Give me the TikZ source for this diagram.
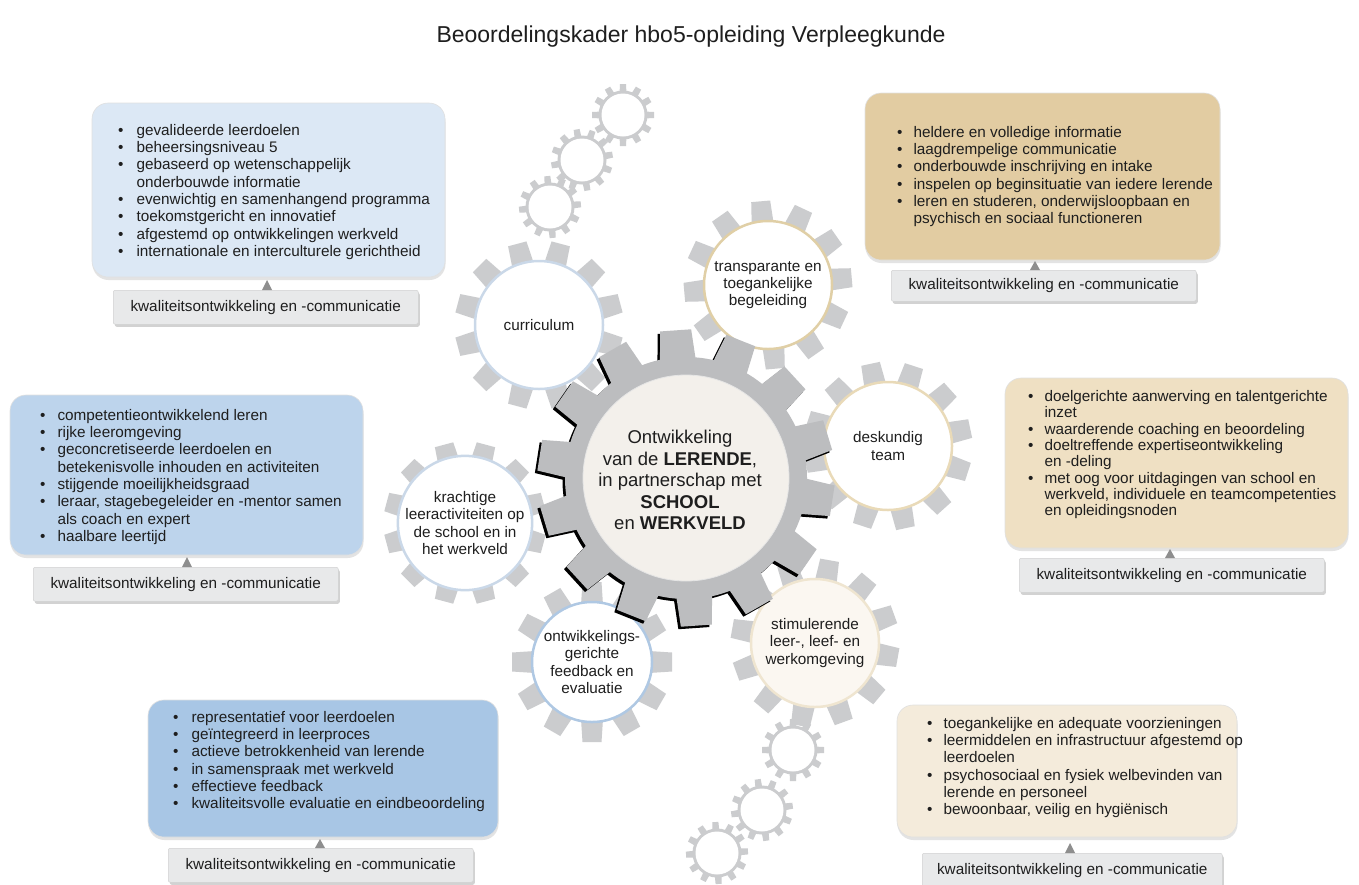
\documentclass[tikz,border=0pt]{standalone}
\usepackage{fontspec}
\setmainfont{Liberation Sans}
\usetikzlibrary{shadows}
\newcommand\fs{\fontsize{15.3}{17.3}\selectfont}
\newcommand\fsd{\fontsize{15.3}{16.3}\selectfont}
\newcommand\fsg{\fontsize{15.3}{17.2}\selectfont}
\newcommand\fsc{\fontsize{18.5}{21.5}\selectfont}
\newcommand{\gearteeth}[8]{%
  \begin{scope}[shift={(#1,#2)}]
    \foreach \k in {1,...,#5}{%
      \fill[rotate=#8+\k*360/#5] (-#6,#3-3) -- (-#7,#4) -- (#7,#4) -- (#6,#3-3) -- cycle;
    }
  \end{scope}}
\definecolor{txt}{HTML}{1E1E1E}
\definecolor{bA}{HTML}{DCE8F5}
\definecolor{bB}{HTML}{E2CCA2}
\definecolor{bC}{HTML}{BDD4EC}
\definecolor{bD}{HTML}{EFE0C3}
\definecolor{bE}{HTML}{A8C6E5}
\definecolor{bF}{HTML}{F4EBDB}
\definecolor{footgray}{HTML}{E8E9EA}
\definecolor{trigray}{HTML}{8E8E8E}
\definecolor{sgray}{HTML}{CBCCCE}
\definecolor{cgray}{HTML}{BCBDBF}
\definecolor{cin}{HTML}{F3F0EB}
\definecolor{edBlue}{HTML}{CAD8E8}
\definecolor{edBlueB}{HTML}{AFC8E3}
\definecolor{edTan}{HTML}{E0CFA6}
\definecolor{edTanB}{HTML}{E9DAB8}
\definecolor{edCream}{HTML}{EFE5D0}
\begin{document}
\begin{tikzpicture}[x=1pt,y=-1pt,
  box/.style={rounded corners=16pt, inner sep=0pt, outer sep=0pt, anchor=north west,
    draw=black!12, line width=0.6pt,
    drop shadow={shadow xshift=0.5pt, shadow yshift=-3pt, opacity=0.22}},
  foot/.style={fill=footgray, draw=black!18, line width=0.5pt, rounded corners=2pt,
    inner sep=0pt, minimum width=305pt, minimum height=34pt, anchor=north west,
    font=\fs, text=txt,
    drop shadow={shadow xshift=1.5pt, shadow yshift=-2.5pt, opacity=0.35}},
  blist/.style={anchor=north west, inner sep=0pt, text=txt, font=\fs},
  gearc/.style={circle, inner sep=0pt, line width=2.5pt, align=center, font=\fsg, text=txt},
  tri/.style={fill=trigray}
]
\useasboundingbox (0,0) rectangle (1359,884);
\fill[white] (0,0) rectangle (1359,884);

\node[font=\fontsize{23}{27}\selectfont, text=txt] (title) at (691,37)
  {Beoordelingskader hbo5-opleiding Verpleegkunde};

% ---------- small gears ----------
\begin{scope}[fill=sgray]
  \foreach \cx/\cy/\r in {623/115/0, 582/160/10, 550/207/5, 793/750/0, 762/810/8, 717/853/3}{
    \gearteeth{\cx}{\cy}{22}{31}{12}{3.6}{3}{\r}
    \fill (\cx,\cy) circle (24.5);
  }
\end{scope}
\node[circle, fill=white, minimum size=43pt, inner sep=0pt] (sg1) at (623,115) {};
\node[circle, fill=white, minimum size=43pt, inner sep=0pt] (sg2) at (582,160) {};
\node[circle, fill=white, minimum size=43pt, inner sep=0pt] (sg3) at (550,207) {};
\node[circle, fill=white, minimum size=43pt, inner sep=0pt] (sg4) at (793,750) {};
\node[circle, fill=white, minimum size=43pt, inner sep=0pt] (sg5) at (762,810) {};
\node[circle, fill=white, minimum size=43pt, inner sep=0pt] (sg6) at (717,853) {};

% ---------- satellite gears ----------
\begin{scope}[fill=sgray]
  \gearteeth{539}{325}{64}{84}{12}{11}{9.5}{15}
  \gearteeth{768}{285}{64}{84}{12}{11}{9.5}{5}
  \gearteeth{888}{446}{64}{84}{12}{11}{9.5}{12}
  \gearteeth{465}{523}{62}{81}{12}{11}{9.5}{15}
  \gearteeth{592}{662}{60}{80}{12}{11}{9.5}{0}
  \gearteeth{815}{643}{64}{84}{12}{11}{9.5}{20}
\end{scope}
\node[gearc, fill=white, draw=edBlue, minimum size=128pt] (curr) at (539,325) {curriculum};
\node[gearc, fill=white, draw=edTan, minimum size=128pt] (trans) at (768,285)
  {transparante en\\toegankelijke\\begeleiding};
\node[gearc, fill=white, draw=edTanB, minimum size=128pt] (desk) at (888,446)
  {deskundig\\team};
\node[gearc, fill=white, draw=edBlue, minimum size=124pt] (kracht) at (465,523)
  {krachtige\\leeractiviteiten op\\de school en in\\het werkveld};
\node[gearc, fill=white, draw=edBlueB, minimum size=120pt] (ontw) at (592,662)
  {ontwikkelings-\\gerichte\\feedback en\\evaluatie};
\node[gearc, fill=white!60!bF, draw=edCream, minimum size=128pt] (stim) at (815,643)
  {stimulerende\\leer-, leef- en\\werkomgeving};

% ---------- central gear ----------
\begin{scope}[shift={(-2.5,2.5)}, fill=black]
  \gearteeth{686}{478}{120}{148}{14}{18}{15.5}{4}
  \fill (686,478) circle (121);
\end{scope}
\begin{scope}[fill=cgray]
  \gearteeth{686}{478}{120}{148}{14}{18}{15.5}{4}
  \fill (686,478) circle (121);
\end{scope}
\node[circle, fill=cin, draw=black!10, line width=0.8pt, minimum size=206pt, inner sep=0pt] (core) at (686,478) {};
\node[align=center, font=\fsc, text=txt, inner sep=0pt] (coretext) at (680,480)
  {Ontwikkeling\\van de \textbf{LERENDE},\\in partnerschap met\\\textbf{SCHOOL}\\en \textbf{WERKVELD}};

% ---------- boxes ----------
\node[box, fill=bA, minimum width=353pt, minimum height=174pt] (b1) at (92,103) {};
\node[box, fill=bB, minimum width=355pt, minimum height=167pt] (b2) at (865,93) {};
\node[box, fill=bC, minimum width=353pt, minimum height=160pt] (b3) at (10,395) {};
\node[box, fill=bD, minimum width=343pt, minimum height=170pt] (b4) at (1005,378) {};
\node[box, fill=bE, minimum width=350pt, minimum height=137pt] (b5) at (148,700) {};
\node[box, fill=bF, minimum width=340pt, minimum height=132pt] (b6) at (897,705) {};

\node[blist] (t1) at (118,123) {\begin{tabular}{@{}l@{\hspace{13pt}}l@{}}
\textbullet & gevalideerde leerdoelen\\
\textbullet & beheersingsniveau 5\\
\textbullet & gebaseerd op wetenschappelijk\\
 & onderbouwde informatie\\
\textbullet & evenwichtig en samenhangend programma\\
\textbullet & toekomstgericht en innovatief\\
\textbullet & afgestemd op ontwikkelingen werkveld\\
\textbullet & internationale en interculturele gerichtheid
\end{tabular}};

\node[blist] (t2) at (897,125) {\begin{tabular}{@{}l@{\hspace{11pt}}l@{}}
\textbullet & heldere en volledige informatie\\
\textbullet & laagdrempelige communicatie\\
\textbullet & onderbouwde inschrijving en intake\\
\textbullet & inspelen op beginsituatie van iedere lerende\\
\textbullet & leren en studeren, onderwijsloopbaan en\\
 & psychisch en sociaal functioneren
\end{tabular}};

\node[blist] (t3) at (40,408) {\begin{tabular}{@{}l@{\hspace{12pt}}l@{}}
\textbullet & competentieontwikkelend leren\\
\textbullet & rijke leeromgeving\\
\textbullet & geconcretiseerde leerdoelen en\\
 & betekenisvolle inhouden en activiteiten\\
\textbullet & stijgende moeilijkheidsgraad\\
\textbullet & leraar, stagebegeleider en -mentor samen\\
 & als coach en expert\\
\textbullet & haalbare leertijd
\end{tabular}};

\node[blist, font=\fsd] (t4) at (1028,390) {\begin{tabular}{@{}l@{\hspace{11pt}}l@{}}
\textbullet & doelgerichte aanwerving en talentgerichte\\
 & inzet\\
\textbullet & waarderende coaching en beoordeling\\
\textbullet & doeltreffende expertiseontwikkeling\\
 & en -deling\\
\textbullet & met oog voor uitdagingen van school en\\
 & werkveld, individuele en teamcompetenties\\
 & en opleidingsnoden
\end{tabular}};

\node[blist] (t5) at (173,710) {\begin{tabular}{@{}l@{\hspace{13pt}}l@{}}
\textbullet & representatief voor leerdoelen\\
\textbullet & geïntegreerd in leerproces\\
\textbullet & actieve betrokkenheid van lerende\\
\textbullet & in samenspraak met werkveld\\
\textbullet & effectieve feedback\\
\textbullet & kwaliteitsvolle evaluatie en eindbeoordeling
\end{tabular}};

\node[blist] (t6) at (927,716) {\begin{tabular}{@{}l@{\hspace{11pt}}l@{}}
\textbullet & toegankelijke en adequate voorzieningen\\
\textbullet & leermiddelen en infrastructuur afgestemd op\\
 & leerdoelen\\
\textbullet & psychosociaal en fysiek welbevinden van\\
 & lerende en personeel\\
\textbullet & bewoonbaar, veilig en hygiënisch
\end{tabular}};

% ---------- footers ----------
\node[foot] (f1) at (113,290) {kwaliteitsontwikkeling en -communicatie};
\node[foot, minimum height=31pt] (f2) at (891,270) {kwaliteitsontwikkeling en -communicatie};
\node[foot] (f3) at (33,567) {kwaliteitsontwikkeling en -communicatie};
\node[foot] (f4) at (1019,558) {kwaliteitsontwikkeling en -communicatie};
\node[foot] (f5) at (168,848) {kwaliteitsontwikkeling en -communicatie};
\node[foot, minimum width=300pt] (f6) at (922,853) {kwaliteitsontwikkeling en -communicatie};

% ---------- small pointer triangles ----------
\fill[tri] (262,290) -- (267,280) -- (272,290) -- cycle;
\fill[tri] (1030,270) -- (1035,261) -- (1040,270) -- cycle;
\fill[tri] (182,567) -- (187,557) -- (192,567) -- cycle;
\fill[tri] (1165,558) -- (1170,549) -- (1175,558) -- cycle;
\fill[tri] (315,848) -- (320,839) -- (325,848) -- cycle;
\fill[tri] (1065,853) -- (1070,843) -- (1075,853) -- cycle;
\end{tikzpicture}
\end{document}
